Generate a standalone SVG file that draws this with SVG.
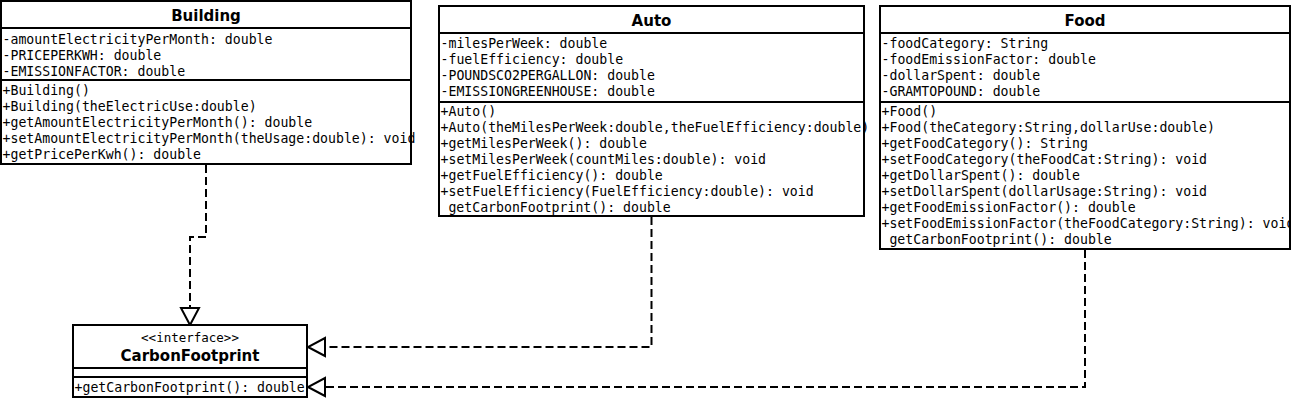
<svg xmlns="http://www.w3.org/2000/svg" width="1291" height="419" viewBox="0 0 1291 419">
<style>
.box{fill:#fff;stroke:#000;stroke-width:2}
.div{stroke:#000;stroke-width:2}
.title{font-family:"DejaVu Sans","Liberation Sans",sans-serif;font-weight:bold;font-size:15px;fill:#000;text-anchor:middle}
.m{font-family:"DejaVu Sans Mono","Liberation Mono",monospace;font-size:13.2px;fill:#000}
.st{font-family:"DejaVu Sans Mono","Liberation Mono",monospace;font-size:12.5px;fill:#000;text-anchor:middle}
.conn{fill:none;stroke:#000;stroke-width:2;stroke-dasharray:8 4}
</style>
<defs>
<marker id="tri" viewBox="-21 -11 23 22" markerWidth="23" markerHeight="22" refX="0" refY="0" orient="auto" markerUnits="userSpaceOnUse">
<path d="M0,0 L-17,-9 L-17,9 Z" fill="#fff" stroke="#000" stroke-width="2" stroke-dasharray="none"/>
</marker>
</defs>
<rect width="1291" height="419" fill="#fff"/>

<g id="connectors">
<path class="conn" d="M206,165 V237 H190 V325" marker-end="url(#tri)"/>
<path class="conn" d="M651.5,217 V347 H308" marker-end="url(#tri)"/>
<path class="conn" d="M1085,250 V387 H308" marker-end="url(#tri)"/>
</g>

<g id="node-building">
<rect class="box" x="1" y="1" width="410" height="163"/>
<line class="div" x1="1" y1="28" x2="411" y2="28"/>
<line class="div" x1="1" y1="80" x2="411" y2="80"/>
<text class="title" x="206" y="21">Building</text>
<text class="m" x="2.5" y="43.5">-amountElectricityPerMonth: double</text>
<text class="m" x="2.5" y="59.5">-PRICEPERKWH: double</text>
<text class="m" x="2.5" y="75.5">-EMISSIONFACTOR: double</text>
<text class="m" x="2.5" y="95">+Building()</text>
<text class="m" x="2.5" y="111">+Building(theElectricUse:double)</text>
<text class="m" x="2.5" y="127">+getAmountElectricityPerMonth(): double</text>
<text class="m" x="2.5" y="143">+setAmountElectricityPerMonth(theUsage:double): void</text>
<text class="m" x="2.5" y="159">+getPricePerKwh(): double</text>
</g>

<g id="node-auto">
<rect class="box" x="439" y="6" width="425" height="210"/>
<line class="div" x1="439" y1="33" x2="864" y2="33"/>
<line class="div" x1="439" y1="102" x2="864" y2="102"/>
<text class="title" x="651.5" y="26">Auto</text>
<text class="m" x="440.5" y="48">-milesPerWeek: double</text>
<text class="m" x="440.5" y="64">-fuelEfficiency: double</text>
<text class="m" x="440.5" y="80">-POUNDSCO2PERGALLON: double</text>
<text class="m" x="440.5" y="96">-EMISSIONGREENHOUSE: double</text>
<text class="m" x="440.5" y="115.5">+Auto()</text>
<text class="m" x="440.5" y="131.5">+Auto(theMilesPerWeek:double,theFuelEfficiency:double)</text>
<text class="m" x="440.5" y="147.5">+getMilesPerWeek(): double</text>
<text class="m" x="440.5" y="163.5">+setMilesPerWeek(countMiles:double): void</text>
<text class="m" x="440.5" y="179.5">+getFuelEfficiency(): double</text>
<text class="m" x="440.5" y="195.5">+setFuelEfficiency(FuelEfficiency:double): void</text>
<text class="m" x="448.4" y="211.5">getCarbonFootprint(): double</text>
</g>

<g id="node-food">
<rect class="box" x="880" y="6" width="410" height="243"/>
<line class="div" x1="880" y1="33" x2="1290" y2="33"/>
<line class="div" x1="880" y1="102" x2="1290" y2="102"/>
<text class="title" x="1085" y="26">Food</text>
<text class="m" x="881.5" y="48">-foodCategory: String</text>
<text class="m" x="881.5" y="64">-foodEmissionFactor: double</text>
<text class="m" x="881.5" y="80">-dollarSpent: double</text>
<text class="m" x="881.5" y="96">-GRAMTOPOUND: double</text>
<text class="m" x="881.5" y="115.5">+Food()</text>
<text class="m" x="881.5" y="131.5">+Food(theCategory:String,dollarUse:double)</text>
<text class="m" x="881.5" y="147.5">+getFoodCategory(): String</text>
<text class="m" x="881.5" y="163.5">+setFoodCategory(theFoodCat:String): void</text>
<text class="m" x="881.5" y="179.5">+getDollarSpent(): double</text>
<text class="m" x="881.5" y="195.5">+setDollarSpent(dollarUsage:String): void</text>
<text class="m" x="881.5" y="211.5">+getFoodEmissionFactor(): double</text>
<text class="m" x="881.5" y="227.5">+setFoodEmissionFactor(theFoodCategory:String): void</text>
<text class="m" x="889.4" y="243.5">getCarbonFootprint(): double</text>
</g>

<g id="node-carbonfootprint">
<rect class="box" x="73" y="325" width="234" height="72"/>
<line class="div" x1="73" y1="368" x2="307" y2="368"/>
<line class="div" x1="73" y1="377" x2="307" y2="377"/>
<text class="st" x="190" y="342">&lt;&lt;interface&gt;&gt;</text>
<text class="title" x="190" y="361">CarbonFootprint</text>
<text class="m" x="74.5" y="391.5">+getCarbonFootprint(): double</text>
</g>
</svg>
